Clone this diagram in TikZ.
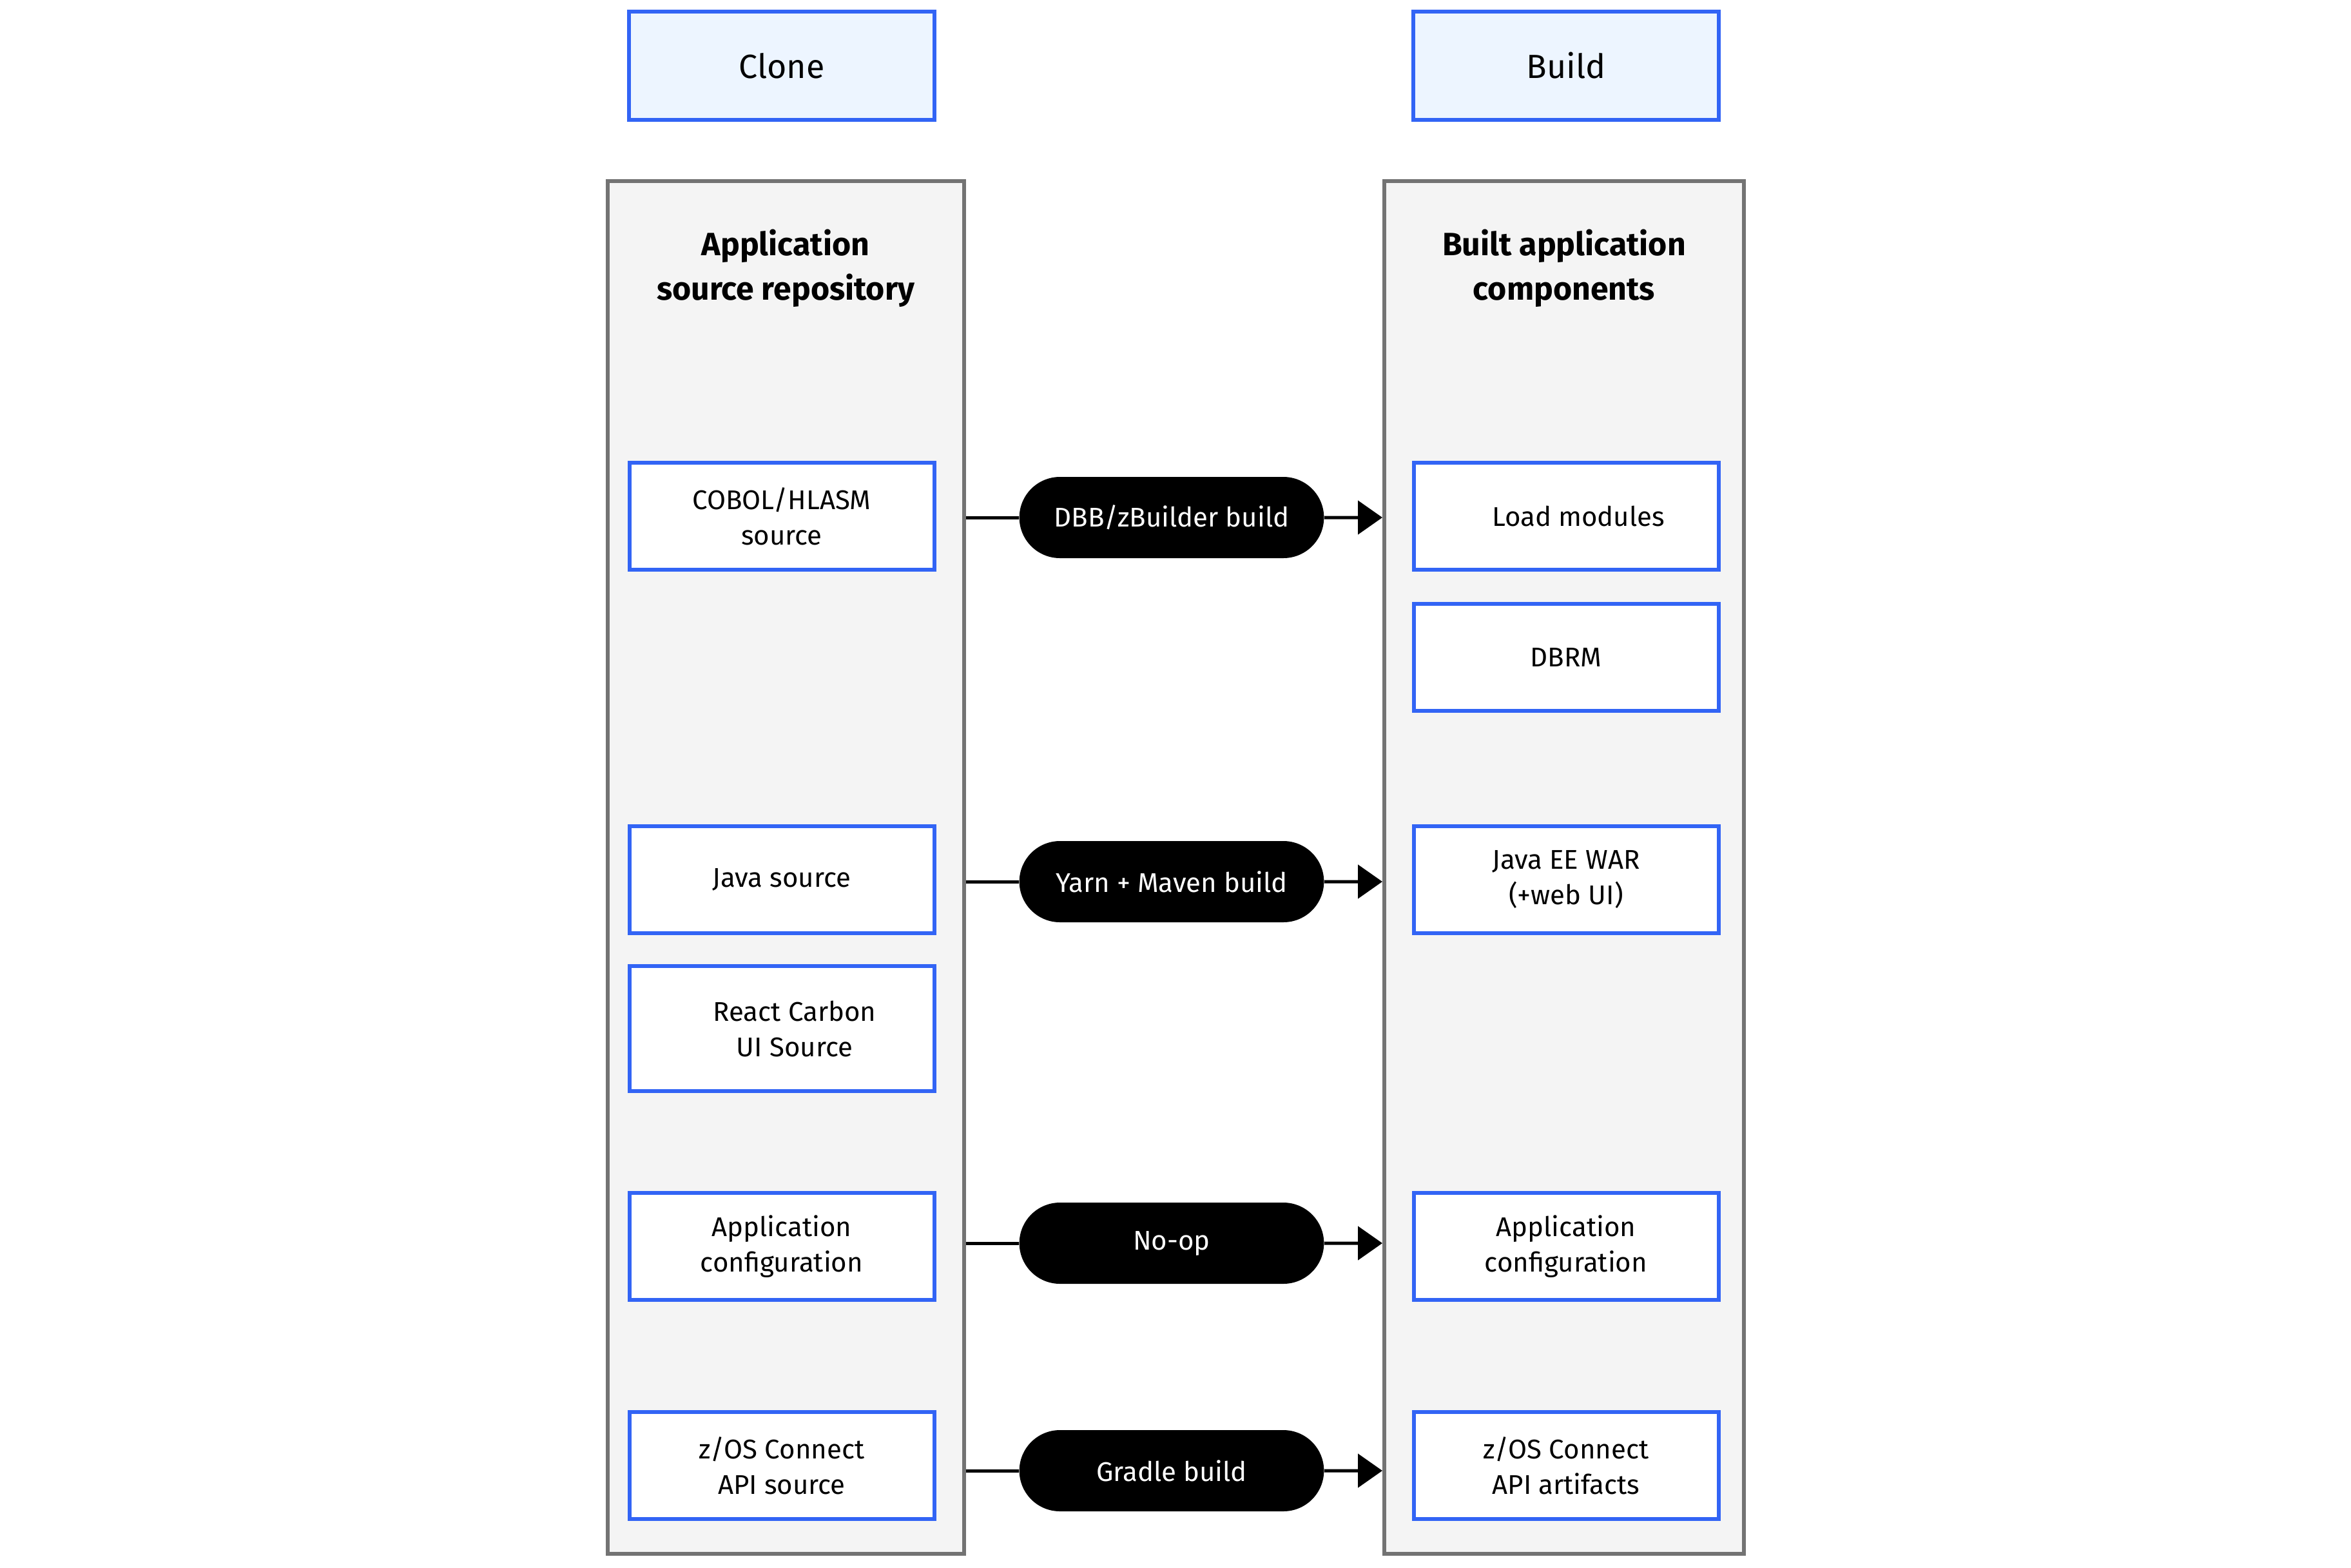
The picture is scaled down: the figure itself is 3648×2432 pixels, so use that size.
\documentclass[tikz,border=0pt]{standalone}
\usepackage{fontspec}
\setmainfont{Fira Sans}
\usepackage{xcolor}
\usetikzlibrary{arrows.meta,positioning,shapes.misc}

\definecolor{boxblue}{HTML}{3264F5}
\definecolor{headfill}{HTML}{EDF5FF}
\definecolor{panelfill}{HTML}{F4F4F4}
\definecolor{panelgray}{HTML}{737373}

\begin{document}
\begin{tikzpicture}[
  x=0.5pt, y=-0.5pt,
  header/.style={rectangle, draw=boxblue, line width=3pt, fill=headfill, minimum width=237pt, minimum height=84pt, font=\fontsize{26}{32}\selectfont},
  panel/.style={rectangle, draw=panelgray, line width=3pt, fill=panelfill, minimum width=276.5pt, minimum height=1065pt},
  title/.style={align=center, font=\bfseries\fontsize{25}{34.5}\selectfont},
  item/.style={rectangle, draw=boxblue, line width=3pt, fill=white, minimum width=236.5pt, minimum height=83pt, align=center, font=\fontsize{21}{27.5}\selectfont},
  tool/.style={rounded rectangle, fill=black, text=white, minimum width=243pt, minimum height=63pt, font=\fontsize{21}{27}\selectfont},
  link/.style={line width=2.5pt},
  feed/.style={-{Triangle[length=19pt,width=26pt]}, line width=2.5pt}
]
  \useasboundingbox (0,0) rectangle (3648,2432);

  % Stage headers
  \node[header] (clone) at (1213,102) {Clone};
  \node[header] (build) at (2430,102) {Build};

  % Panels (grey)
  \node[panel] (repo) at (1219,1346) {};
  \node[panel, minimum width=279pt] (built) at (2427,1346) {};
  \node[title] (repotitle) at (1219,416) {Application\\source repository};
  \node[title] (builttitle) at (2427,416) {Built application\\components};

  % Source items
  \node[item] (cobol) at (1213,801) {COBOL/HLASM\\source};
  \node[item] (java) at (1213,1365) {Java source};
  \node[item, minimum height=97pt, below=22.5pt of java] (react) {\hspace*{20pt}React Carbon\\\hspace*{20pt}UI Source};
  \node[item] (appcfg) at (1213,1934) {Application\\configuration};
  \node[item] (zapi) at (1213,2274) {z/OS Connect\\API source};

  % Built items
  \node[item] (loadmod) at (2430,801) {\hspace*{19pt}Load modules};
  \node[item, below=23.5pt of loadmod] (dbrm) {DBRM};
  \node[item] (war) at (2430,1365) {Java EE WAR\\(+web UI)};
  \node[item] (appout) at (2430,1934) {Application\\configuration};
  \node[item] (zart) at (2430,2274) {z/OS Connect\\API artifacts};

  % Build steps (pills)
  \node[tool] (dbb) at (1818,803) {DBB/zBuilder build};
  \node[tool] (yarn) at (1818,1368) {Yarn + Maven build};
  \node[tool] (noop) at (1818,1929) {No-op};
  \node[tool] (gradle) at (1818,2282) {Gradle build};

  % Panel edge points
  \coordinate (dbbin) at (dbb -| repo.east);
  \coordinate (dbbout) at (dbb -| built.west);
  \coordinate (yarnin) at (yarn -| repo.east);
  \coordinate (yarnout) at (yarn -| built.west);
  \coordinate (noopin) at (noop -| repo.east);
  \coordinate (noopout) at (noop -| built.west);
  \coordinate (gradlein) at (gradle -| repo.east);
  \coordinate (gradleout) at (gradle -| built.west);

  % Connectors
  \path[link]
    (dbbin) edge (dbb)
    (yarnin) edge (yarn)
    (noopin) edge (noop)
    (gradlein) edge (gradle);
  \path[feed]
    (dbb) edge (dbbout)
    (yarn) edge (yarnout)
    (noop) edge (noopout)
    (gradle) edge (gradleout);
\end{tikzpicture}
\end{document}
